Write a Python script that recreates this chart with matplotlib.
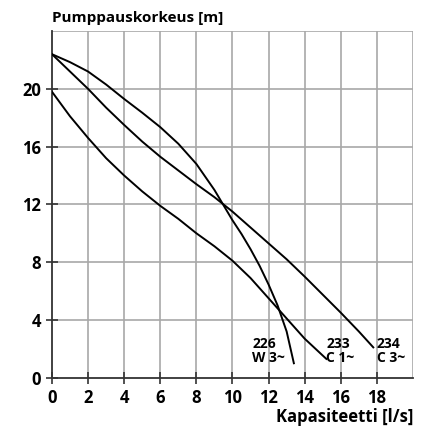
"""Pump curves: head vs. capacity for models 226, 233 and 234."""

import matplotlib

matplotlib.use("Agg")
import matplotlib.pyplot as plt

# capacity [l/s] and head [m]
q_226 = [0, 1, 2, 3, 4, 5, 6, 7, 8, 9, 9.5, 10, 10.5, 11, 11.5, 12, 12.5, 13, 13.4]
h_226 = [22.4, 21.85, 21.2, 20.3, 19.3, 18.35, 17.35, 16.2, 14.8, 13.0, 11.95, 10.9, 9.95,
         8.9, 7.75, 6.45, 5.0, 3.2, 1.0]

q_233 = [0, 1, 2, 3, 4, 5, 6, 7, 8, 9, 10, 11, 12, 13, 14, 15.2]
h_233 = [19.8, 18.1, 16.6, 15.2, 14.0, 12.9, 11.9, 11.0, 10.0, 9.1, 8.1, 6.9, 5.5, 4.1, 2.7, 1.3]

q_234 = [0, 1, 2, 3, 4, 5, 6, 7, 8, 9, 9.5, 10, 11, 12, 13, 14, 15, 16, 17, 17.8]
h_234 = [22.4, 21.2, 20.0, 18.7, 17.5, 16.35, 15.3, 14.35, 13.4, 12.5, 12.0, 11.5, 10.4, 9.3,
         8.2, 7.0, 5.75, 4.5, 3.2, 2.1]

curve_labels = ["226\nW 3~", "233\nC 1~", "234\nC 3~"]
label_x = [11.1, 15.2, 18.0]

x_ticks = list(range(0, 19, 2))
y_ticks = list(range(0, 21, 4))

plt.rcParams["font.family"] = ["Open Sans", "DejaVu Sans"]
plt.rcParams["font.weight"] = "bold"

fig = plt.figure(figsize=(4.26, 4.32), dpi=100)
ax = fig.add_axes([0.122, 0.1257, 0.8475, 0.8023])

ax.set_xlim(0, 20)
ax.set_ylim(0, 24)

# grid: every 2 l/s, every 4 m
for gx in range(2, 21, 2):
    ax.axvline(gx, color="#a8a8a8", lw=1.2, zorder=1)
for gy in range(4, 25, 4):
    ax.axhline(gy, color="#a8a8a8", lw=1.2, zorder=1)

for q, h in ((q_226, h_226), (q_233, h_233), (q_234, h_234)):
    ax.plot(q, h, color="black", lw=1.4, zorder=3, solid_joinstyle="round")

for x, txt in zip(label_x, curve_labels):
    ax.text(x, 1.85, txt, ha="left", va="center", fontsize=10,
            fontweight="bold", linespacing=1.0, zorder=4)

for side in ("top", "right"):
    ax.spines[side].set_visible(False)
for side in ("left", "bottom"):
    ax.spines[side].set_linewidth(1.3)
    ax.spines[side].set_color("#333333")

ax.set_xticks(x_ticks)
ax.set_yticks(y_ticks)
ax.tick_params(axis="both", direction="inout", length=8, width=1.2,
               color="#333333", labelsize=12, pad=4)
for lbl in ax.get_xticklabels() + ax.get_yticklabels():
    lbl.set_fontweight("bold")

fig.text(0.122, 0.958, "Pumppauskorkeus [m]", ha="left", va="center",
         fontsize=11, fontweight="bold")
fig.text(0.9695, 0.034, "Kapasiteetti [l/s]", ha="right", va="center",
         fontsize=12, fontweight="bold")

fig.savefig("out.png", dpi=100)
